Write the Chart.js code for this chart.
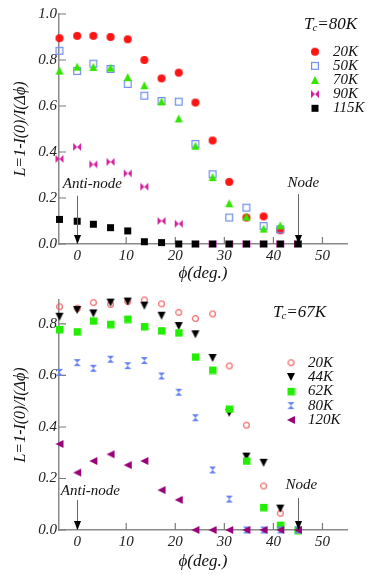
<!DOCTYPE html>
<html>
<head>
<meta charset="utf-8">
<script src="https://cdn.jsdelivr.net/npm/chart.js@4.4.0/dist/chart.umd.min.js"></script>
<style>
  html, body { margin: 0; padding: 0; background: #fff; }
  #wrap { position: relative; width: 382px; height: 575px; }
  .box { position: absolute; left: 0; width: 382px; }
  #topBox { top: 0; height: 287px; }
  #botBox { top: 287px; height: 288px; }
</style>
</head>
<body>
<div id="wrap">
  <div class="box" id="topBox"><canvas id="topChart" width="382" height="287"></canvas></div>
  <div class="box" id="botBox"><canvas id="botChart" width="382" height="288"></canvas></div>
</div>
<script>
// angle along the Fermi surface (deg.)
const phi = [-3.6, 0, 3.3, 6.8, 10.3, 13.7, 17.2, 20.7, 24.1, 27.6, 31.0, 34.5, 38.0, 41.4, 45.0];

// Tc = 80K panel
const topTemps = ["20K", "50K", "70K", "90K", "115K"];
const top20K = [0.895, 0.905, 0.905, 0.9, 0.89, 0.80, 0.72, 0.745, 0.615, 0.45, 0.27, 0.115, 0.12, 0.06, null];
const top50K = [0.84, 0.752, 0.784, 0.761, 0.696, 0.645, 0.622, 0.619, 0.435, 0.303, 0.115, 0.158, 0.078, 0.064, null];
const top70K = [0.754, 0.771, 0.77, 0.767, 0.726, 0.69, 0.62, 0.546, 0.427, 0.291, 0.177, 0.119, 0.067, 0.081, null];
const top90K = [0.37, 0.422, 0.346, 0.357, 0.307, 0.249, 0.1, 0.088, 0, 0, 0, 0, 0, 0, 0];
const top115K = [0.107, 0.099, 0.086, 0.071, 0.057, 0.01, 0.006, 0, 0, 0, 0, 0, 0, 0, 0];

// Tc = 67K panel
const botTemps = ["20K", "44K", "62K", "80K", "120K"];
const bot20K = [0.867, 0.861, 0.883, 0.876, 0.887, 0.893, 0.878, 0.845, 0.821, 0.839, 0.637, 0.407, 0.171, 0.065, null];
const bot44K = [0.828, 0.854, 0.841, 0.883, 0.887, 0.871, 0.832, 0.792, 0.76, 0.668, 0.455, 0.285, 0.261, 0.083, null];
const bot62K = [0.779, 0.77, 0.812, 0.799, 0.819, 0.79, 0.774, 0.766, 0.672, 0.621, 0.47, 0.268, 0.088, 0.019, 0];
const bot80K = [0.612, 0.65, 0.628, 0.663, 0.638, 0.658, 0.598, 0.535, 0.436, 0.233, 0.12, 0, 0, 0, 0];
const bot120K = [0.334, 0.223, 0.268, 0.294, 0.252, 0.268, 0.155, 0.117, 0, 0, 0, 0, 0, 0, 0];

// tick labels
const xTicks = [0, 10, 20, 30, 40, 50];
const topYTicks = [0, 0.2, 0.4, 0.6, 0.8, 1.0];
const botYTicks = [0, 0.2, 0.4, 0.6, 0.8];

const SERIF = '"Liberation Serif", "DejaVu Serif", serif';

// build a little canvas to use as a point marker
function marker(kind, color, s) {
  const c = document.createElement("canvas");
  c.width = s + 2;
  c.height = s + 2;
  const g = c.getContext("2d");
  g.fillStyle = color;
  g.strokeStyle = color;
  g.lineWidth = 1.2;
  const m = 1, h = s / 2;
  g.beginPath();
  if (kind === "dot") {
    g.arc(m + h, m + h, h, 0, Math.PI * 2);
    g.fill();
  } else if (kind === "ring") {
    g.arc(m + h, m + h, h - 0.6, 0, Math.PI * 2);
    g.stroke();
  } else if (kind === "box") {
    g.fillRect(m, m, s, s);
  } else if (kind === "openbox") {
    g.strokeRect(m + 0.6, m + 0.6, s - 1.2, s - 1.2);
  } else if (kind === "up") {
    g.moveTo(m + h, m); g.lineTo(m + s, m + s); g.lineTo(m, m + s); g.closePath(); g.fill();
  } else if (kind === "down") {
    g.moveTo(m, m); g.lineTo(m + s, m); g.lineTo(m + h, m + s); g.closePath(); g.fill();
  } else if (kind === "left") {
    g.moveTo(m, m + h); g.lineTo(m + s, m); g.lineTo(m + s, m + s); g.closePath(); g.fill();
  } else if (kind === "bowtie") {
    g.moveTo(m, m); g.lineTo(m, m + s); g.lineTo(m + h, m + h); g.closePath();
    g.moveTo(m + s, m); g.lineTo(m + s, m + s); g.lineTo(m + h, m + h); g.closePath();
    g.fill();
  } else if (kind === "hourglass") {
    g.moveTo(m, m); g.lineTo(m + s, m); g.lineTo(m + h, m + h); g.closePath();
    g.moveTo(m, m + s); g.lineTo(m + s, m + s); g.lineTo(m + h, m + h); g.closePath();
    g.fill();
  }
  return c;
}

function toPoints(vals) {
  return phi.map((x, i) => ({ x: x, y: vals[i] })).filter((p) => p.y !== null);
}

function makeSets(series, styles) {
  return series.map((vals, i) => ({
    label: styles[i].label,
    data: toPoints(vals),
    pointStyle: styles[i].img,
    showLine: false,
    clip: false,
    order: series.length - i,
  }));
}

// inward tick marks like the original plot
const innerTicks = {
  id: "innerTicks",
  beforeDatasetsDraw(chart) {
    const { ctx, chartArea, scales } = chart;
    ctx.save();
    ctx.strokeStyle = "#7a7a7a";
    ctx.lineWidth = 1.2;
    ctx.beginPath();
    scales.x.ticks.forEach((t) => {
      const px = scales.x.getPixelForValue(t.value);
      ctx.moveTo(px, chartArea.bottom);
      ctx.lineTo(px, chartArea.bottom - 7);
    });
    scales.y.ticks.forEach((t) => {
      const py = scales.y.getPixelForValue(t.value);
      ctx.moveTo(chartArea.left, py);
      ctx.lineTo(chartArea.left + 7, py);
    });
    ctx.stroke();
    ctx.restore();
  },
};

// arrows, legend and Tc label
function decor(cfg) {
  return {
    id: "decor",
    afterDatasetsDraw(chart) {
      const { ctx, scales } = chart;
      const x = scales.x, y = scales.y;
      ctx.save();
      cfg.arrows.forEach((a) => {
        const px = Math.round(x.getPixelForValue(a.x)) + 0.5;
        const y0 = y.getPixelForValue(a.from);
        const y1 = y.getPixelForValue(0);
        ctx.strokeStyle = "#666";
        ctx.lineWidth = 1;
        ctx.beginPath();
        ctx.moveTo(px, y0);
        ctx.lineTo(px, y1 - 8);
        ctx.stroke();
        ctx.fillStyle = "#000";
        ctx.beginPath();
        ctx.moveTo(px - 3.5, y1 - 9);
        ctx.lineTo(px + 3.5, y1 - 9);
        ctx.lineTo(px, y1);
        ctx.closePath();
        ctx.fill();
        ctx.font = "italic 15px " + SERIF;
        ctx.textAlign = "center";
        ctx.textBaseline = "middle";
        ctx.fillStyle = "#111";
        ctx.fillText(a.label, x.getPixelForValue(a.tx), y.getPixelForValue(a.ty));
      });

      // Tc = ...
      ctx.textAlign = "left";
      ctx.textBaseline = "middle";
      ctx.fillStyle = "#111";
      let tx = cfg.tc.x;
      ctx.font = "italic 17px " + SERIF;
      ctx.fillText("T", tx, cfg.tc.y);
      tx += ctx.measureText("T").width;
      ctx.font = "italic 11px " + SERIF;
      ctx.fillText("c", tx - 1, cfg.tc.y + 3);
      tx += ctx.measureText("c").width - 1;
      ctx.font = "italic 17px " + SERIF;
      ctx.fillText(cfg.tc.text, tx, cfg.tc.y);

      // legend
      ctx.font = "italic 15px " + SERIF;
      chart.data.datasets.forEach((ds, i) => {
        const ly = cfg.legend.y + i * cfg.legend.step;
        const img = ds.pointStyle;
        ctx.drawImage(img, cfg.legend.mx - img.width / 2, ly - img.height / 2);
        ctx.fillText(ds.label, cfg.legend.tx, ly);
      });
      ctx.restore();
    },
  };
}

function makeChart(id, datasets, yMax, yTicks, padTop, xHeight, cfg) {
  return new Chart(document.getElementById(id), {
    type: "scatter",
    data: { datasets: datasets },
    options: {
      responsive: false,
      animation: false,
      layout: { padding: { top: padTop, right: 35, left: 0, bottom: 0 } },
      plugins: { legend: { display: false }, tooltip: { enabled: false } },
      elements: { point: { radius: 4 } },
      scales: {
        x: {
          type: "linear",
          min: -3.7,
          max: 55,
          afterBuildTicks: (s) => { s.ticks = xTicks.map((v) => ({ value: v })); },
          afterFit: (s) => { s.height = xHeight; },
          grid: { display: false, drawTicks: false },
          border: { display: true, color: "#8a8a8a", width: 1.5 },
          ticks: {
            padding: 3,
            color: "#222",
            font: { family: SERIF, style: "italic", size: 15 },
            callback: (v) => String(v),
          },
          title: {
            display: true,
            text: "\u03d5(deg.)",
            color: "#111",
            font: { family: SERIF, style: "italic", size: 17 },
            padding: { top: 3, bottom: 3 },
          },
        },
        y: {
          type: "linear",
          min: 0,
          max: yMax,
          afterBuildTicks: (s) => { s.ticks = yTicks.map((v) => ({ value: v })); },
          afterFit: (s) => { s.width = 59; },
          grid: { display: false, drawTicks: false },
          border: { display: true, color: "#8a8a8a", width: 1.5 },
          ticks: {
            padding: 2,
            color: "#222",
            font: { family: SERIF, style: "italic", size: 15 },
            callback: (v) => v.toFixed(1),
          },
          title: {
            display: true,
            text: "L=1-I(0)/I(\u0394\u03d5)",
            color: "#111",
            font: { family: SERIF, style: "italic", size: 16 },
            padding: { top: 11, bottom: 0 },
          },
        },
      },
    },
    plugins: [innerTicks, decor(cfg)],
  });
}

const topStyles = [
  { label: topTemps[0], img: marker("dot", "#ff1414", 8) },
  { label: topTemps[1], img: marker("openbox", "#6f8ef0", 8) },
  { label: topTemps[2], img: marker("up", "#33e600", 8) },
  { label: topTemps[3], img: marker("bowtie", "#d4209e", 8) },
  { label: topTemps[4], img: marker("box", "#000000", 7) },
];

const botStyles = [
  { label: botTemps[0], img: marker("ring", "#f06a6a", 7) },
  { label: botTemps[1], img: marker("down", "#000000", 8) },
  { label: botTemps[2], img: marker("box", "#22ee00", 7.5) },
  { label: botTemps[3], img: marker("hourglass", "#6680f5", 7) },
  { label: botTemps[4], img: marker("left", "#990077", 8) },
];

makeChart("topChart", makeSets([top20K, top50K, top70K, top90K, top115K], topStyles), 1.0, topYTicks, 14, 43, {
  arrows: [
    { x: 0, from: 0.21, label: "Anti-node", tx: 3.1, ty: 0.26 },
    { x: 45, from: 0.217, label: "Node", tx: 46.1, ty: 0.265 },
  ],
  tc: { x: 304, y: 25, text: "=80K" },
  legend: { mx: 315, tx: 333, y: 51.7, step: 14.15 },
});

makeChart("botChart", makeSets([bot20K, bot44K, bot62K, bot80K, bot120K], botStyles), 0.893, botYTicks, 13, 45, {
  arrows: [
    { x: 0, from: 0.117, label: "Anti-node", tx: 2.7, ty: 0.151 },
    { x: 45, from: 0.124, label: "Node", tx: 45.7, ty: 0.175 },
  ],
  tc: { x: 273, y: 26, text: "=67K" },
  legend: { mx: 291, tx: 308, y: 75.7, step: 14.3 },
});
</script>
</body>
</html>
